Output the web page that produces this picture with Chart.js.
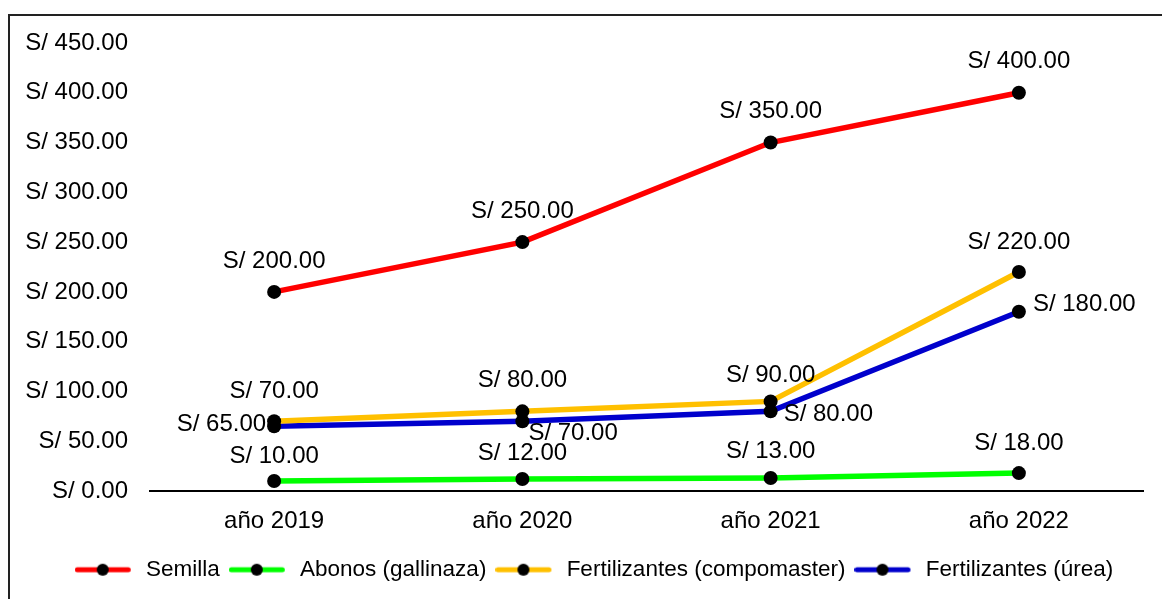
<!DOCTYPE html>
<html>
<head>
<meta charset="utf-8">
<script src="https://cdn.jsdelivr.net/npm/chart.js@4.4.1/dist/chart.umd.min.js"></script>
<style>
  html, body { margin: 0; padding: 0; background: #fff; overflow: hidden; }
  #frame { position: absolute; left: 8px; top: 14px; width: 1300px; height: 700px;
           border-left: 2px solid #222; border-top: 2px solid #222; }
  #wrap { position: absolute; left: 0; top: 0; width: 1162px; height: 599px; }
</style>
</head>
<body>
<div id="frame"></div>
<div id="wrap"><canvas id="precios_chart"></canvas></div>
<script>
// datos
var years = ['año 2019', 'año 2020', 'año 2021', 'año 2022'];
var semilla = [200, 250, 350, 400];
var abonos = [10, 12, 13, 18];
var compomaster = [70, 80, 90, 220];
var urea = [65, 70, 80, 180];
var yMax = 450;
var yStep = 50;

var FONT = '"Liberation Sans", Arial, sans-serif';

function soles(v) {
    return 'S/ ' + Number(v).toFixed(2);
}

// where each value label sits relative to its point
var above = function (dy) { return { dx: 0, dy: dy, align: 'center' }; };
var labelPlaces = [
    [above(-31), above(-31), above(-31), above(-31)],
    [above(-25), above(-26), above(-27), above(-30)],
    [above(-30), above(-31), above(-26), above(-30)],
    [
        { dx: -8, dy: -2, align: 'right' },
        { dx: 6, dy: 12, align: 'left' },
        { dx: 13, dy: 3, align: 'left' },
        { dx: 14, dy: -7, align: 'left' }
    ]
];

function legendSwatch(color) {
    var c = document.createElement('canvas');
    c.width = 60;
    c.height = 16;
    var g = c.getContext('2d');
    g.strokeStyle = color;
    g.lineWidth = 5;
    g.lineCap = 'round';
    g.beginPath();
    g.moveTo(2.5, 8);
    g.lineTo(53.5, 8);
    g.stroke();
    g.fillStyle = '#000';
    g.beginPath();
    g.arc(28, 8, 6, 0, Math.PI * 2);
    g.fill();
    return c;
}

var valueLabels = {
    id: 'valueLabels',
    afterLayout: function (chart) {
        // legend is centred a bit right of the canvas middle
        chart.legend.left = 45;
    },
    afterDatasetsDraw: function (chart) {
        var ctx = chart.ctx;
        ctx.save();
        ctx.font = '24px ' + FONT;
        ctx.fillStyle = '#000';
        ctx.textBaseline = 'middle';
        chart.data.datasets.forEach(function (ds, i) {
            var meta = chart.getDatasetMeta(i);
            meta.data.forEach(function (pt, j) {
                var place = labelPlaces[i][j];
                ctx.textAlign = place.align;
                ctx.fillText(soles(ds.data[j]), pt.x + place.dx, pt.y + place.dy);
            });
        });
        ctx.restore();
    }
};

function serie(label, data, color) {
    return {
        label: label,
        data: data,
        borderColor: color,
        backgroundColor: color,
        borderWidth: 5.5,
        tension: 0,
        pointRadius: 7,
        pointHoverRadius: 7,
        pointBackgroundColor: '#000',
        pointBorderColor: '#000',
        pointBorderWidth: 0,
        pointStyle: 'circle',
        legendStyle: legendSwatch(color)
    };
}

var precios_chart = new Chart(document.getElementById('precios_chart'), {
    type: 'line',
    data: {
        labels: years,
        datasets: [
            serie('Semilla', semilla, '#ff0000'),
            serie('Abonos (gallinaza)', abonos, '#00ff00'),
            serie('Fertilizantes (compomaster)', compomaster, '#ffc000'),
            serie('Fertilizantes (úrea)', urea, '#0000cc')
        ]
    },
    options: {
        responsive: true,
        maintainAspectRatio: false,
        animation: false,
        events: [],
        layout: {
            padding: { left: 0, right: 19, top: 43, bottom: 8 }
        },
        scales: {
            x: {
                offset: true,
                grid: { display: false, drawTicks: false },
                border: { display: true, color: '#000', width: 2 },
                ticks: { color: '#000', padding: 16, font: { family: FONT, size: 24 } },
                afterFit: function (s) { s.height = 58.5; }
            },
            y: {
                min: 0,
                max: yMax,
                grid: { display: false, drawTicks: false },
                border: { display: false },
                ticks: {
                    stepSize: yStep,
                    color: '#000',
                    padding: 22,
                    font: { family: FONT, size: 24 },
                    callback: function (v) { return soles(v); }
                },
                afterFit: function (s) { s.width = 150; }
            }
        },
        plugins: {
            tooltip: { enabled: false },
            legend: {
                position: 'bottom',
                labels: {
                    usePointStyle: true,
                    pointStyleWidth: 60,
                    padding: 9,
                    color: '#000',
                    font: { family: FONT, size: 22.5 },
                    generateLabels: function (chart) {
                        return chart.data.datasets.map(function (ds, i) {
                            return {
                                text: ds.label,
                                datasetIndex: i,
                                pointStyle: ds.legendStyle,
                                fillStyle: ds.borderColor,
                                strokeStyle: ds.borderColor,
                                lineWidth: 0,
                                fontColor: '#000',
                                hidden: false
                            };
                        });
                    }
                }
            }
        }
    },
    plugins: [valueLabels]
})
</script>
</body>
</html>
